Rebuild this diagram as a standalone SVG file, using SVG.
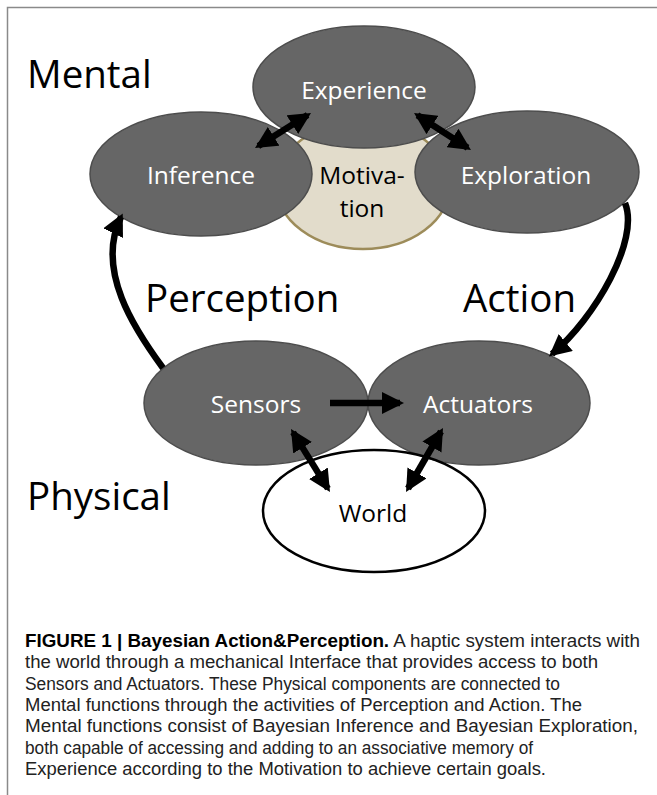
<svg xmlns="http://www.w3.org/2000/svg" width="657" height="795" viewBox="0 0 657 795">
<style>
.node{fill:#666666;stroke:#4d4d4d;stroke-width:1.5}
.ntext{font-family:"Open Sans","Noto Sans",sans-serif;font-size:24.5px;fill:#ffffff;text-anchor:middle}
.btext{font-family:"Open Sans","Noto Sans",sans-serif;font-size:24.5px;fill:#000000;text-anchor:middle}
.big{font-family:"Open Sans","Noto Sans",sans-serif;font-size:38.5px;fill:#000000}
.conn{fill:none;stroke:#000000;stroke-width:6.5}
.cap{font-family:"Liberation Sans",Arial,sans-serif;font-size:17.5px;fill:#222222}
</style>
<defs>
<marker id="ah" markerUnits="userSpaceOnUse" viewBox="0 0 22 22" markerWidth="22" markerHeight="22" refX="18" refY="11" orient="auto-start-reverse">
<path d="M0,0 L22,11 L0,22 z" fill="#000000"/>
</marker>
</defs>
<rect x="7.5" y="7.5" width="700" height="850" fill="none" stroke="#8a8a8a" stroke-width="1.5"/>

<text class="big" x="27" y="88">Mental</text>
<text class="big" x="145" y="312">Perception</text>
<text class="big" x="463" y="312">Action</text>
<text class="big" x="27" y="510">Physical</text>

<g id="motivation">
<ellipse cx="363" cy="185" rx="87" ry="64" fill="#e2dccb" stroke="#9d8c5a" stroke-width="2.5"/>
<text class="btext" x="362" y="184">Motiva-</text>
<text class="btext" x="362" y="217">tion</text>
</g>
<g id="experience">
<ellipse class="node" cx="364" cy="87" rx="111" ry="61"/>
<text class="ntext" x="364" y="99">Experience</text>
</g>
<g id="inference">
<ellipse class="node" cx="201" cy="174" rx="111" ry="62"/>
<text class="ntext" x="201" y="184">Inference</text>
</g>
<g id="exploration">
<ellipse class="node" cx="527" cy="172" rx="112" ry="61"/>
<text class="ntext" x="526" y="184">Exploration</text>
</g>
<g id="sensors">
<ellipse class="node" cx="256" cy="403" rx="112" ry="62"/>
<text class="ntext" x="256" y="413">Sensors</text>
</g>
<g id="actuators">
<ellipse class="node" cx="479" cy="403" rx="111" ry="62"/>
<text class="ntext" x="478" y="413">Actuators</text>
</g>
<g id="world">
<ellipse cx="374" cy="511" rx="111" ry="61" fill="none" stroke="#000000" stroke-width="2.5"/>
<text class="btext" x="373" y="522">World</text>
</g>

<g id="connectors">
<path class="conn" d="M163,368 C135,330 95,270 121,217" marker-end="url(#ah)"/>
<path class="conn" d="M625,203 C640,240 595,318 552,354" marker-end="url(#ah)"/>
<path class="conn" d="M330,403 L400,403" marker-end="url(#ah)"/>
<path class="conn" d="M258.4,145.9 L307.6,115.1" marker-start="url(#ah)" marker-end="url(#ah)"/>
<path class="conn" d="M417.4,115.2 L467.6,147.8" marker-start="url(#ah)" marker-end="url(#ah)"/>
<path class="conn" d="M293.1,432.4 L327.9,488.6" marker-start="url(#ah)" marker-end="url(#ah)"/>
<path class="conn" d="M441,431.5 L408,488.5" marker-start="url(#ah)" marker-end="url(#ah)"/>
</g>

<g id="caption">
<text class="cap" x="25" y="647" textLength="615" lengthAdjust="spacingAndGlyphs"><tspan font-weight="bold" fill="#000">FIGURE 1 | Bayesian Action&amp;Perception.</tspan> A haptic system interacts with</text>
<text class="cap" x="25" y="668.3" textLength="573" lengthAdjust="spacingAndGlyphs">the world through a mechanical Interface that provides access to both</text>
<text class="cap" x="25" y="689.6" textLength="535" lengthAdjust="spacingAndGlyphs">Sensors and Actuators. These Physical components are connected to</text>
<text class="cap" x="25" y="710.9" textLength="557" lengthAdjust="spacingAndGlyphs">Mental functions through the activities of Perception and Action. The</text>
<text class="cap" x="25" y="732.2" textLength="613" lengthAdjust="spacingAndGlyphs">Mental functions consist of Bayesian Inference and Bayesian Exploration,</text>
<text class="cap" x="25" y="753.5" textLength="508" lengthAdjust="spacingAndGlyphs">both capable of accessing and adding to an associative memory of</text>
<text class="cap" x="25" y="774.8" textLength="521" lengthAdjust="spacingAndGlyphs">Experience according to the Motivation to achieve certain goals.</text>
</g>
</svg>
